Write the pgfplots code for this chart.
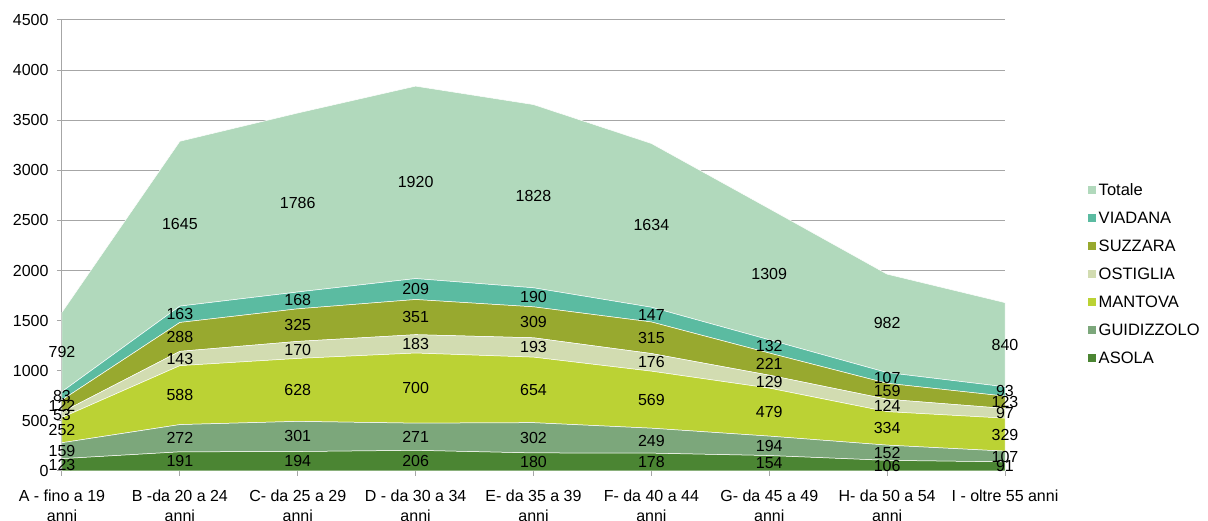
\documentclass[border=0pt]{standalone}
\usepackage{fontspec}
\setmainfont{Liberation Sans}
\usepackage{pgfplots}
\usepackage{pgfplotstable}
\pgfplotsset{compat=1.18}
\definecolor{cTot}{HTML}{B1D9BC}
\definecolor{cVIA}{HTML}{5BBBA1}
\definecolor{cSUZ}{HTML}{98A92F}
\definecolor{cOST}{HTML}{D2DCB1}
\definecolor{cMAN}{HTML}{BBD234}
\definecolor{cGUI}{HTML}{7CA77B}
\definecolor{cASO}{HTML}{4B8533}
\definecolor{gridc}{HTML}{A6A6A6}
\pgfplotstableread{
x ASOLA GUIDIZZOLO MANTOVA OSTIGLIA SUZZARA VIADANA Totale
0 123 159 252 53 122 83 792
1 191 272 588 143 288 163 1645
2 194 301 628 170 325 168 1786
3 206 271 700 183 351 209 1920
4 180 302 654 193 309 190 1828
5 178 249 569 176 315 147 1634
6 154 194 479 129 221 132 1309
7 106 152 334 124 159 107 982
8 91 107 329 97 123 93 840
}\data
\begin{document}
\begin{tikzpicture}[font=\fontsize{16}{19}\selectfont]
\useasboundingbox (-62pt,-50pt) rectangle (1146pt,471pt);
\begin{axis}[
  at={(0pt,0pt)}, anchor=south west,
  scale only axis, width=943pt, height=451pt,
  xmin=0, xmax=8, ymin=0, ymax=4500,
  stack plots=y,
  clip=false,
  axis x line=bottom, axis y line=left,
  axis line style={-, draw=gridc, line width=1pt},
  tick align=outside,
  major tick length=5pt,
  tick style={draw=gridc, line width=1pt},
  ytick={0,500,...,4500},
  xtick={0,...,8},
  xticklabels={{A - fino a 19\\anni},{B -da 20 a 24\\anni},{C- da 25 a 29\\anni},{D - da 30 a 34\\anni},{E- da 35 a 39\\anni},{F- da 40 a 44\\anni},{G- da 45 a 49\\anni},{H- da 50 a 54\\anni},{I - oltre 55 anni}},
  xticklabel style={align=center, anchor=north, yshift=-10pt, font=\fontsize{16}{20.5}\selectfont},
  yticklabel style={xshift=-5pt},
  ymajorgrids, grid style={draw=gridc, line width=1pt},
  /pgf/number format/assume math mode=true,
  yticklabel={\pgfmathprintnumber[1000 sep={}]{\tick}},
  nodes near coords={\pgfmathprintnumber[1000 sep={}]{\pgfplotspointmeta}},
  every node near coord/.append style={anchor=center, text=black, font=\fontsize{16}{19}\selectfont, inner sep=0pt},
  legend style={at={(1.087,0.643)}, anchor=north west, draw=none, fill=none, row sep=11pt, font=\fontsize{16.5}{19}\selectfont, inner sep=0pt},
  legend cell align=left,
  reverse legend,
  legend image code/.code={\fill[#1] (0pt,-4.5pt) rectangle (9pt,4.5pt);},
]
\addplot[fill=cASO, draw=white, line width=0.5pt, point meta=\thisrow{ASOLA}, visualization depends on={\thisrow{ASOLA}\as\val}, nodes near coords style={yshift=-0.050111*\val*1pt}] table[x=x,y=ASOLA]{\data} \closedcycle;
\addlegendentry{ASOLA}
\addplot[fill=cGUI, draw=white, line width=0.5pt, point meta=\thisrow{GUIDIZZOLO}, visualization depends on={\thisrow{GUIDIZZOLO}\as\val}, nodes near coords style={yshift=-0.050111*\val*1pt}] table[x=x,y=GUIDIZZOLO]{\data} \closedcycle;
\addlegendentry{GUIDIZZOLO}
\addplot[fill=cMAN, draw=white, line width=0.5pt, point meta=\thisrow{MANTOVA}, visualization depends on={\thisrow{MANTOVA}\as\val}, nodes near coords style={yshift=-0.050111*\val*1pt}] table[x=x,y=MANTOVA]{\data} \closedcycle;
\addlegendentry{MANTOVA}
\addplot[fill=cOST, draw=white, line width=0.5pt, point meta=\thisrow{OSTIGLIA}, visualization depends on={\thisrow{OSTIGLIA}\as\val}, nodes near coords style={yshift=-0.050111*\val*1pt}] table[x=x,y=OSTIGLIA]{\data} \closedcycle;
\addlegendentry{OSTIGLIA}
\addplot[fill=cSUZ, draw=white, line width=0.5pt, point meta=\thisrow{SUZZARA}, visualization depends on={\thisrow{SUZZARA}\as\val}, nodes near coords style={yshift=-0.050111*\val*1pt}] table[x=x,y=SUZZARA]{\data} \closedcycle;
\addlegendentry{SUZZARA}
\addplot[fill=cVIA, draw=white, line width=0.5pt, point meta=\thisrow{VIADANA}, visualization depends on={\thisrow{VIADANA}\as\val}, nodes near coords style={yshift=-0.050111*\val*1pt}] table[x=x,y=VIADANA]{\data} \closedcycle;
\addlegendentry{VIADANA}
\addplot[fill=cTot, draw=white, line width=0.5pt, point meta=\thisrow{Totale}, visualization depends on={\thisrow{Totale}\as\val}, nodes near coords style={yshift=-0.050111*\val*1pt}] table[x=x,y=Totale]{\data} \closedcycle;
\addlegendentry{Totale}
\end{axis}
\end{tikzpicture}
\end{document}
